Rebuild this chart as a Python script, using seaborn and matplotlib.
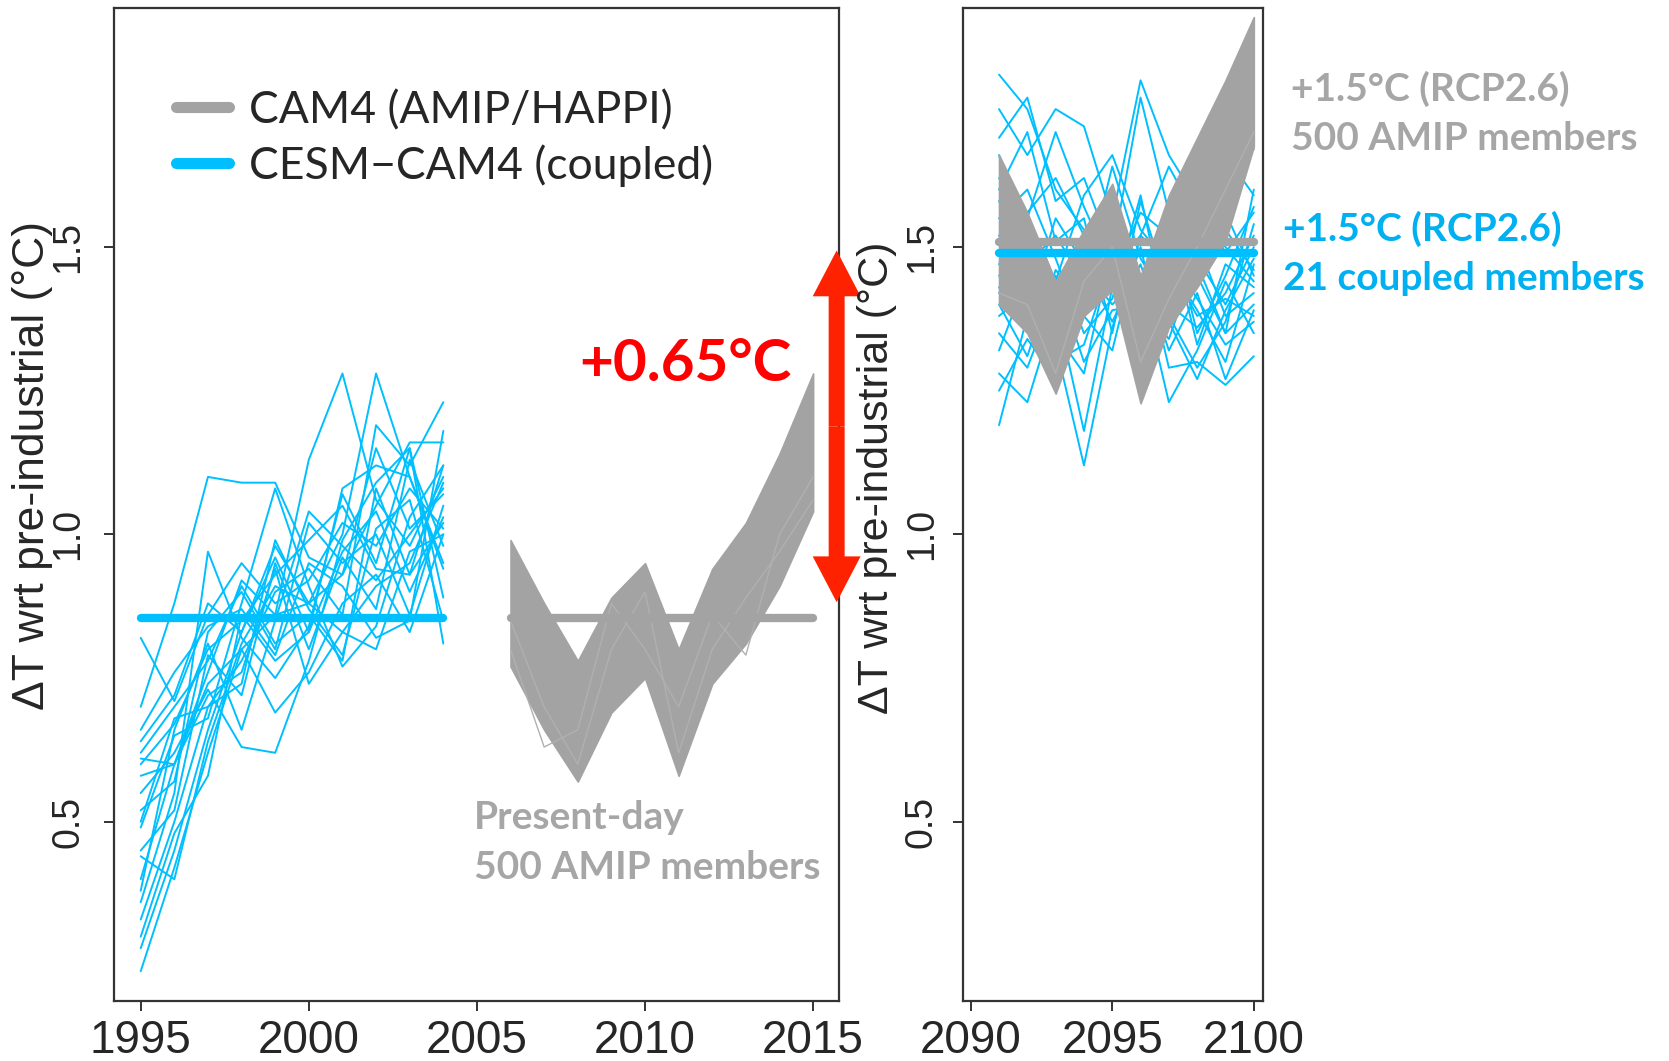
import numpy as np
import pandas as pd
import matplotlib.pyplot as plt
from matplotlib.lines import Line2D
import seaborn as sns

sns.set_theme(style='white')
plt.rcParams['font.family'] = ['Liberation Sans', 'DejaVu Sans']

BLUE = '#00bfff'
GRAY = '#a3a3a3'
TXT_BLUE = '#00b0f0'
TXT_GRAY = '#a6a6a6'
RED = '#ff0000'
ARROW_RED = '#ff2200'

# ---- data ----
years_pd = list(range(1995, 2005))
years_amip_pd = list(range(2006, 2016))
years_fut = list(range(2091, 2101))

# 21 coupled CESM-CAM4 members, present day
coupled_pd = [
    [0.82, 0.71, 0.86, 0.95, 0.88, 0.92, 1.02, 0.98, 1.08, 1.01],
    [0.70, 0.88, 1.10, 1.09, 1.09, 0.96, 0.93, 1.05, 1.16, 1.16],
    [0.24, 0.42, 0.62, 0.80, 0.86, 1.13, 1.28, 1.06, 0.98, 1.10],
    [0.28, 0.45, 0.66, 0.83, 0.98, 0.88, 1.00, 1.28, 1.10, 0.95],
    [0.33, 0.50, 0.70, 0.78, 0.90, 0.94, 0.86, 1.19, 1.12, 1.23],
    [0.36, 0.55, 0.97, 0.82, 0.75, 0.84, 1.07, 0.95, 1.15, 0.89],
    [0.40, 0.60, 0.76, 0.92, 0.86, 0.88, 0.93, 1.15, 1.01, 1.07],
    [0.45, 0.52, 0.79, 0.72, 0.95, 0.80, 0.96, 0.87, 1.13, 0.98],
    [0.49, 0.65, 0.68, 0.88, 1.08, 0.91, 0.77, 0.84, 1.03, 1.12],
    [0.52, 0.57, 0.83, 0.90, 0.80, 1.02, 0.95, 1.00, 0.86, 1.05],
    [0.55, 0.62, 0.73, 0.63, 0.62, 0.78, 0.99, 1.09, 1.15, 0.81],
    [0.58, 0.60, 0.74, 0.80, 0.69, 0.76, 0.88, 0.93, 0.83, 1.00],
    [0.60, 0.67, 0.80, 0.85, 0.93, 0.99, 1.05, 0.94, 0.93, 1.02],
    [0.61, 0.60, 0.72, 0.76, 0.94, 0.74, 0.83, 0.80, 0.97, 1.00],
    [0.62, 0.70, 0.78, 0.91, 0.81, 0.86, 0.78, 1.08, 0.93, 1.12],
    [0.64, 0.72, 0.88, 0.83, 0.96, 0.83, 1.08, 1.12, 1.10, 0.94],
    [0.66, 0.76, 0.84, 0.87, 0.79, 0.95, 0.91, 0.82, 0.85, 1.18],
    [0.50, 0.68, 0.70, 0.74, 0.99, 0.87, 0.79, 1.01, 1.06, 0.85],
    [0.38, 0.66, 0.81, 0.66, 0.85, 1.04, 0.98, 0.92, 1.00, 1.08],
    [0.30, 0.48, 0.58, 0.86, 0.78, 0.83, 0.97, 1.04, 0.90, 1.03],
    [0.44, 0.40, 0.64, 0.81, 0.91, 0.88, 0.83, 0.91, 0.95, 1.09],
]

# 500 AMIP members, present day: envelope + a few stray members
amip_pd_upper = [0.99, 0.88, 0.78, 0.89, 0.95, 0.80, 0.94, 1.02, 1.14, 1.28]
amip_pd_lower = [0.77, 0.66, 0.57, 0.69, 0.75, 0.58, 0.74, 0.81, 0.91, 1.04]
amip_pd_strays = [
    [0.80, 0.63, 0.66, 0.88, 0.80, 0.70, 0.86, 0.79, 1.00, 1.10],
    [0.85, 0.70, 0.60, 0.80, 0.90, 0.62, 0.80, 0.89, 0.97, 1.06],
]

# 21 coupled members, +1.5 degC (RCP2.6)
coupled_fut = [
    [1.80, 1.74, 1.60, 1.53, 1.45, 1.56, 1.52, 1.44, 1.53, 1.46],
    [1.74, 1.66, 1.74, 1.71, 1.55, 1.79, 1.66, 1.58, 1.49, 1.56],
    [1.69, 1.76, 1.58, 1.62, 1.49, 1.76, 1.56, 1.62, 1.66, 1.59],
    [1.66, 1.50, 1.44, 1.59, 1.66, 1.53, 1.47, 1.38, 1.41, 1.38],
    [1.62, 1.55, 1.70, 1.57, 1.46, 1.52, 1.64, 1.55, 1.68, 1.67],
    [1.58, 1.47, 1.52, 1.44, 1.64, 1.48, 1.40, 1.36, 1.42, 1.52],
    [1.55, 1.60, 1.48, 1.35, 1.41, 1.59, 1.36, 1.45, 1.35, 1.40],
    [1.52, 1.44, 1.37, 1.50, 1.53, 1.37, 1.53, 1.33, 1.47, 1.43],
    [1.49, 1.39, 1.55, 1.47, 1.37, 1.47, 1.32, 1.42, 1.27, 1.39],
    [1.45, 1.52, 1.40, 1.18, 1.43, 1.42, 1.58, 1.47, 1.35, 1.60],
    [1.43, 1.36, 1.33, 1.12, 1.36, 1.50, 1.29, 1.30, 1.26, 1.31],
    [1.40, 1.31, 1.46, 1.40, 1.54, 1.35, 1.45, 1.51, 1.38, 1.42],
    [1.38, 1.42, 1.30, 1.33, 1.48, 1.44, 1.23, 1.32, 1.44, 1.35],
    [1.35, 1.29, 1.42, 1.38, 1.32, 1.52, 1.47, 1.39, 1.30, 1.47],
    [1.32, 1.45, 1.35, 1.28, 1.50, 1.38, 1.43, 1.56, 1.50, 1.44],
    [1.28, 1.23, 1.39, 1.46, 1.40, 1.45, 1.38, 1.29, 1.37, 1.54],
    [1.25, 1.34, 1.27, 1.42, 1.44, 1.33, 1.49, 1.41, 1.33, 1.37],
    [1.19, 1.38, 1.45, 1.30, 1.39, 1.40, 1.34, 1.48, 1.40, 1.50],
    [1.47, 1.56, 1.62, 1.52, 1.58, 1.43, 1.55, 1.35, 1.45, 1.57],
    [1.60, 1.70, 1.51, 1.55, 1.35, 1.58, 1.42, 1.50, 1.56, 1.45],
    [1.42, 1.48, 1.38, 1.45, 1.47, 1.31, 1.37, 1.27, 1.39, 1.48],
]

# 500 AMIP members, +1.5 degC
amip_fut_upper = [1.66, 1.56, 1.44, 1.53, 1.61, 1.45, 1.59, 1.69, 1.79, 1.90]
amip_fut_lower = [1.40, 1.35, 1.245, 1.38, 1.425, 1.228, 1.36, 1.43, 1.51, 1.675]
amip_fut_strays = [
    [1.42, 1.40, 1.28, 1.44, 1.50, 1.30, 1.41, 1.50, 1.60, 1.70],
]

# ensemble means (thick lines)
mean_coupled_pd = 0.854
mean_amip_pd = 0.854
mean_amip_fut = 1.508
mean_coupled_fut = 1.489

# arrow: difference between present-day AMIP and +1.5 degC
arrow_low, arrow_high = 0.882, 1.494


def members_frame(years, members):
    rows = []
    for m, vals in enumerate(members):
        for yr, v in zip(years, vals):
            rows.append((m, yr, v))
    return pd.DataFrame(rows, columns=['member', 'year', 'dT'])


fig = plt.figure(figsize=(16.69, 10.61), dpi=100, facecolor='white')
ax1 = fig.add_axes([0.0682, 0.0570, 0.4343, 0.9350])
ax2 = fig.add_axes([0.5772, 0.0570, 0.1798, 0.9350])

# ---- left panel: present day ----
sns.lineplot(data=members_frame(years_pd, coupled_pd), x='year', y='dT',
             units='member', estimator=None, color=BLUE, lw=1.4, ax=ax1,
             legend=False, zorder=2)
ax1.fill_between(years_amip_pd, amip_pd_lower, amip_pd_upper, color=GRAY,
                 lw=1.2, edgecolor=GRAY, zorder=2)
sns.lineplot(data=members_frame(years_amip_pd, amip_pd_strays), x='year', y='dT',
             units='member', estimator=None, color='#b0b0b0', lw=1.0, ax=ax1,
             legend=False, zorder=2)
ax1.hlines(mean_coupled_pd, years_pd[0], years_pd[-1], color=BLUE, lw=6,
           capstyle='round', zorder=4)
ax1.hlines(mean_amip_pd, years_amip_pd[0], years_amip_pd[-1], color=GRAY, lw=6,
           capstyle='round', zorder=4)

ax1.set_xlim(1994.2, 2015.76)
ax1.set_xticks([1995, 2000, 2005, 2010, 2015])

# ---- right panel: +1.5 degC ----
sns.lineplot(data=members_frame(years_fut, coupled_fut), x='year', y='dT',
             units='member', estimator=None, color=BLUE, lw=1.4, ax=ax2,
             legend=False, zorder=2)
ax2.fill_between(years_fut, amip_fut_lower, amip_fut_upper, color=GRAY,
                 lw=1.2, edgecolor=GRAY, zorder=3)
sns.lineplot(data=members_frame(years_fut, amip_fut_strays), x='year', y='dT',
             units='member', estimator=None, color='#b0b0b0', lw=1.0, ax=ax2,
             legend=False, zorder=3)
ax2.hlines(mean_amip_fut, years_fut[0], years_fut[-1], color=GRAY, lw=6,
           capstyle='round', zorder=4)
ax2.hlines(mean_coupled_fut, years_fut[0], years_fut[-1], color=BLUE, lw=6,
           capstyle='round', zorder=5)

ax2.set_xlim(2089.74, 2100.34)
ax2.set_xticks([2090, 2095, 2100])

for ax, ypad in ((ax1, 13), (ax2, 10)):
    ax.set_ylim(0.189, 1.915)
    ax.set_yticks([0.5, 1.0, 1.5])
    ax.set_yticklabels(['0.5', '1.0', '1.5'])
    ax.set_xlabel('')
    ax.set_ylabel('')
    for sp in ax.spines.values():
        sp.set_visible(True)
        sp.set_color('#333333')
        sp.set_linewidth(1.6)
    ax.tick_params(axis='x', direction='out', length=7, width=1.4,
                   color='#333333', labelsize=33, pad=6, bottom=True)
    ax.tick_params(axis='y', direction='out', length=7, width=1.4,
                   color='#333333', labelsize=27, pad=ypad, left=True,
                   labelrotation=90)
    for lab in ax.get_yticklabels():
        lab.set_va('center')
    ax.set_facecolor('white')

# axis titles
ylab = '\u0394T wrt pre-industrial (\u00b0C)'
fig.text(0.0195, 0.561, ylab, rotation=90, ha='center', va='center',
         fontsize=32, family='Liberation Sans')
fig.text(0.5255, 0.550, ylab, rotation=90, ha='center', va='center',
         fontsize=31, family='Liberation Sans')

# legend
handles = [Line2D([], [], color=GRAY, lw=8, solid_capstyle='round'),
           Line2D([], [], color=BLUE, lw=8, solid_capstyle='round')]
ax1.legend(handles, ['CAM4 (AMIP/HAPPI)', 'CESM\u2212CAM4 (coupled)'],
           loc='upper left', bbox_to_anchor=(0.086, 0.918), frameon=False,
           borderpad=0, borderaxespad=0, handlelength=1.2, handletextpad=0.45,
           labelspacing=0.29, prop={'family': 'Lato', 'size': 32})

# double-headed arrow and labels
x_arrow = 2015.7
mid = (arrow_low + arrow_high) / 2
for tip in (arrow_high, arrow_low):
    ax1.annotate('', xy=(x_arrow, tip), xytext=(x_arrow, mid),
                 arrowprops=dict(arrowstyle='simple,head_length=3.3,head_width=3.45,tail_width=1.15',
                                 mutation_scale=10, color=ARROW_RED, lw=0,
                                 shrinkA=0, shrinkB=0),
                 annotation_clip=False, zorder=10)

fig.text(0.4740, 0.656, '+0.65\u00b0C', color=RED, fontsize=42,
         fontweight='bold', family='Lato', ha='right', va='center')
fig.text(0.2840, 0.206, 'Present-day\n500 AMIP members', color=TXT_GRAY,
         fontsize=28, fontweight='bold', family='Lato', ha='left', va='center',
         linespacing=1.5)
fig.text(0.7735, 0.893, '+1.5\u00b0C (RCP2.6)\n500 AMIP members', color=TXT_GRAY,
         fontsize=28, fontweight='bold', family='Lato', ha='left', va='center',
         linespacing=1.5)
fig.text(0.7687, 0.761, '+1.5\u00b0C (RCP2.6)\n21 coupled members', color=TXT_BLUE,
         fontsize=28, fontweight='bold', family='Lato', ha='left', va='center',
         linespacing=1.5)

fig.savefig('out.png', dpi=100, facecolor='white')
